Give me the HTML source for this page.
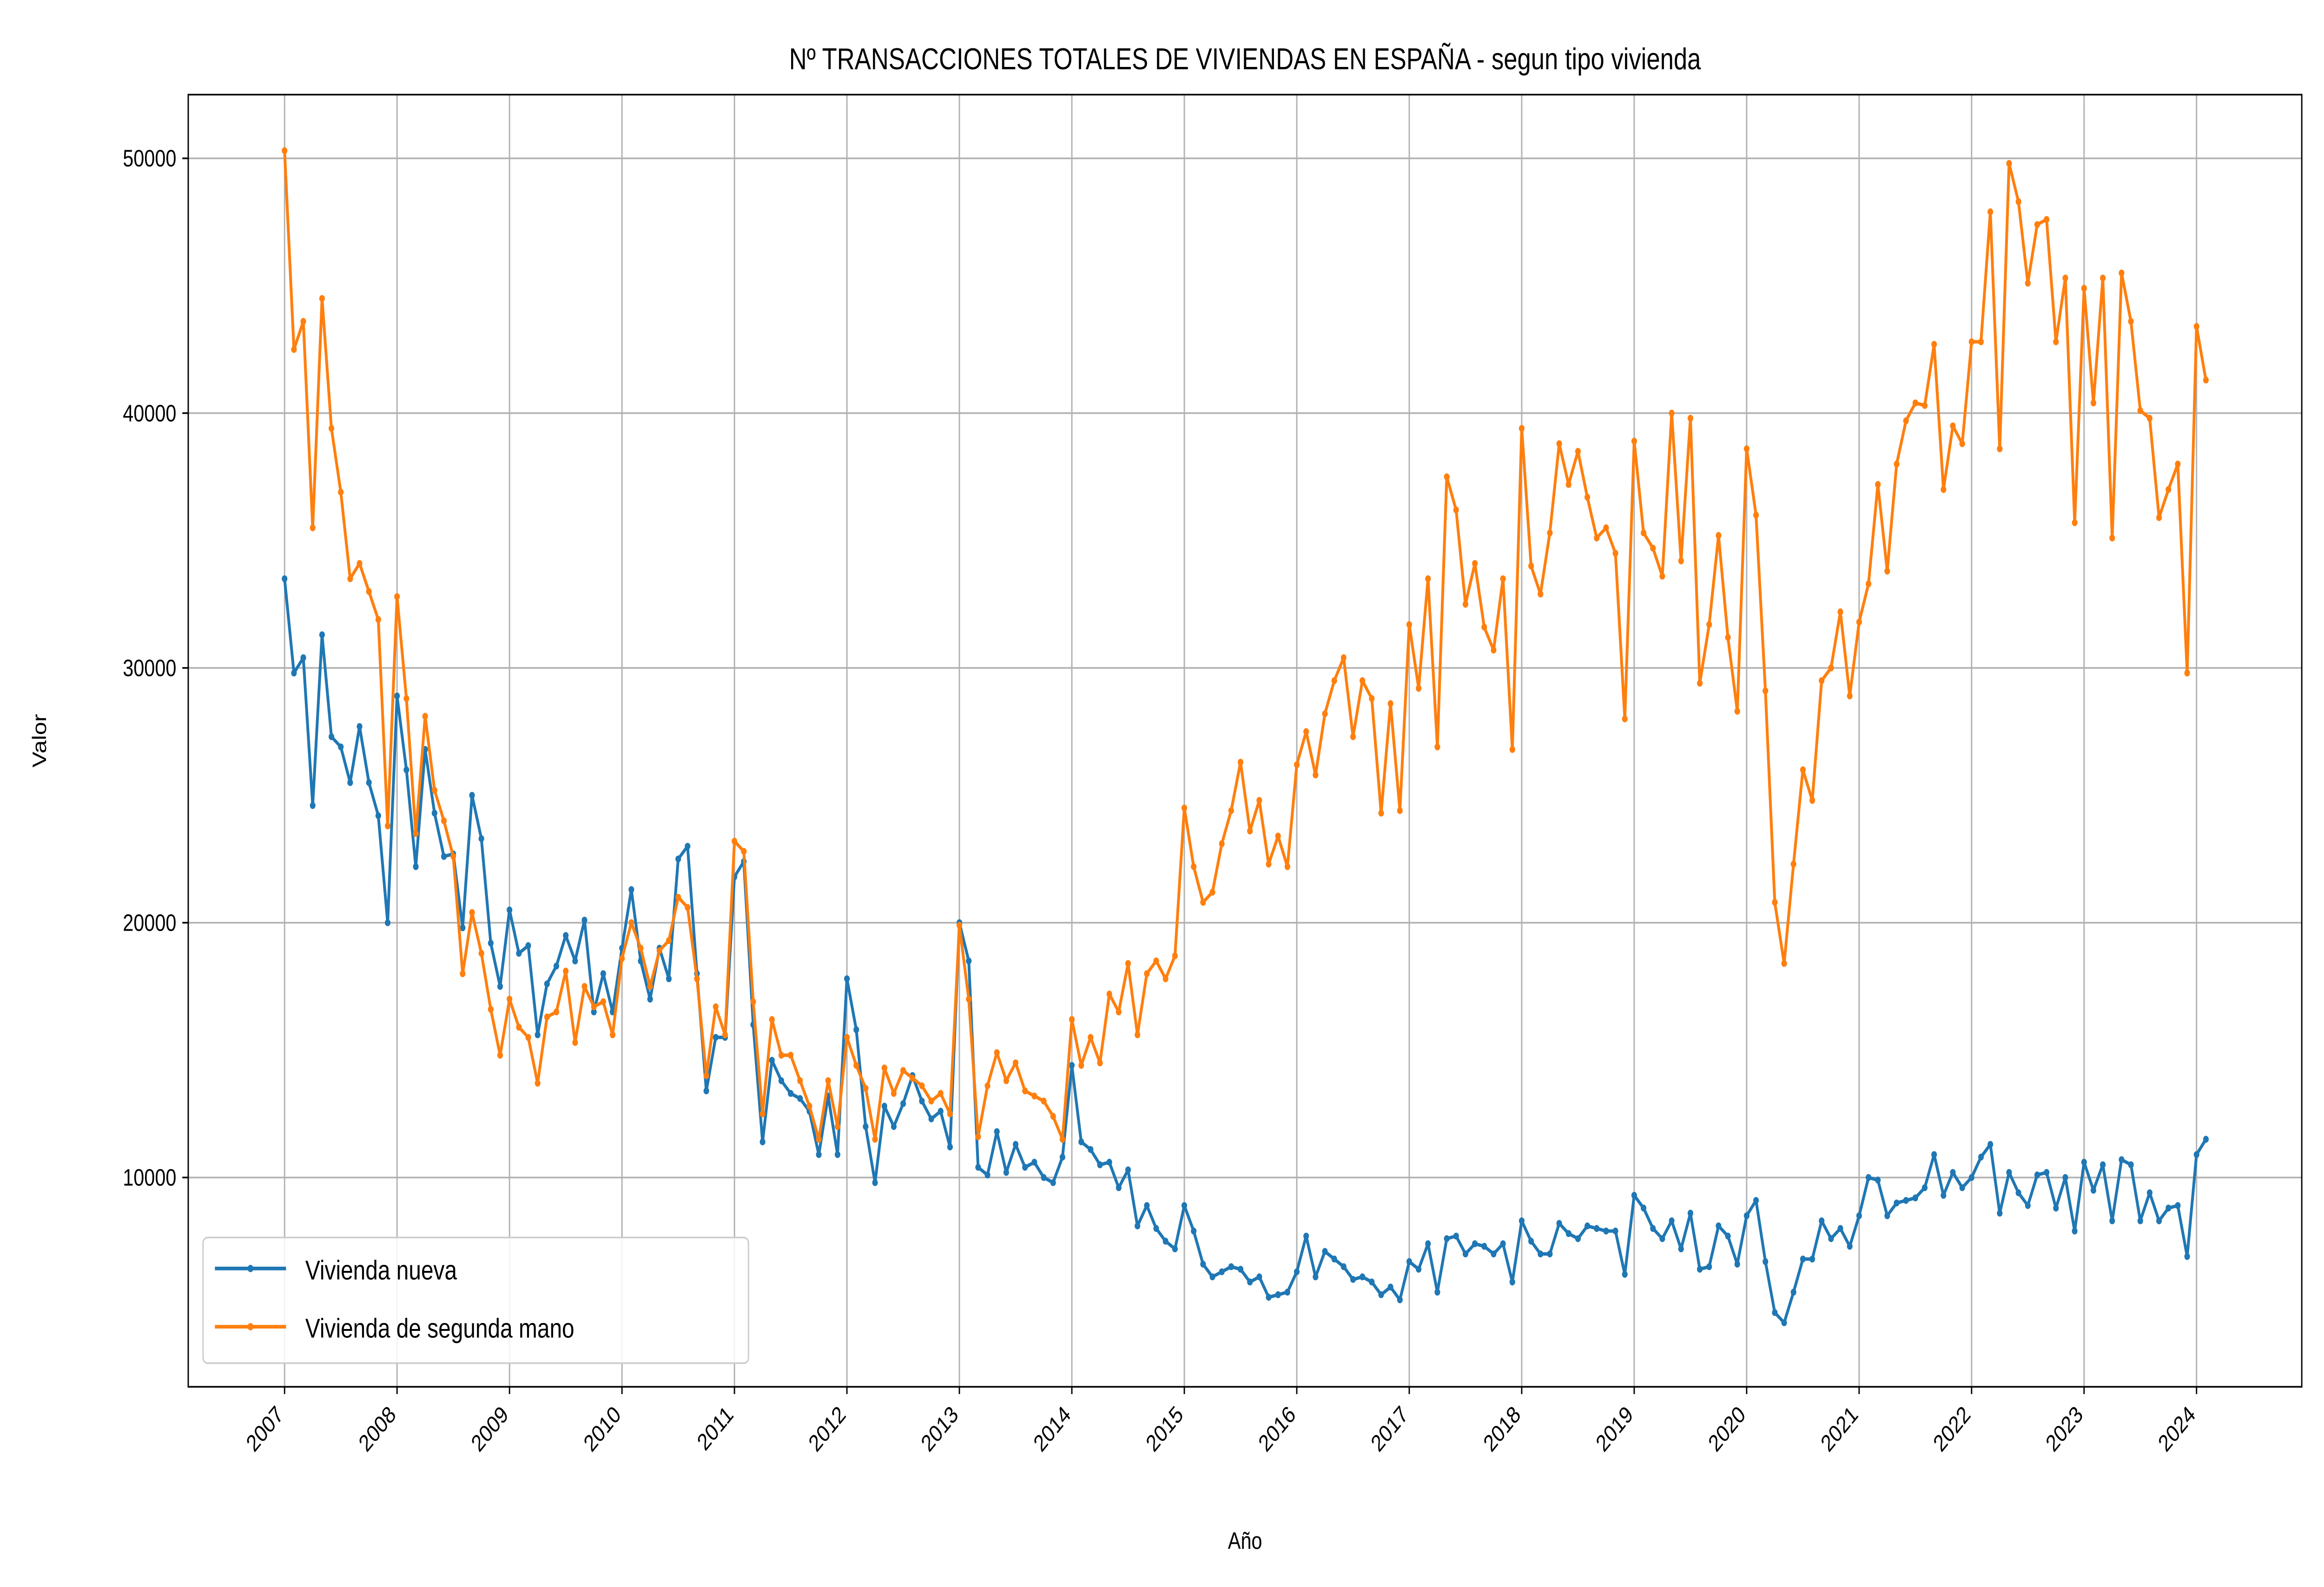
<!DOCTYPE html>
<html><head><meta charset="utf-8">
<style>html,body{margin:0;padding:0;background:#fff;width:100%;height:100%;overflow:hidden;}svg{display:block;width:100vw;height:100vh;font-family:"Liberation Sans","DejaVu Sans",sans-serif;}</style>
</head><body>
<svg id="chart" viewBox="0 0 1568 872" preserveAspectRatio="none" xmlns="http://www.w3.org/2000/svg">
<rect x="0" y="0" width="1568" height="872" fill="#fff"/>
<g id="grid"></g>
<g id="series"></g>
<rect x="127" y="52" width="1426" height="710" fill="none" stroke="#000" stroke-width="0.9"/>
<g id="ticks"></g>
<text x="840" y="38" font-size="16.5" text-anchor="middle">Nº TRANSACCIONES TOTALES DE VIVIENDAS EN ESPAÑA - segun tipo vivienda</text>
<text x="840" y="851" font-size="13" text-anchor="middle">Año</text>
<text x="31" y="407" font-size="13" text-anchor="middle" transform="rotate(-90 31 407)">Valor</text>
<g>
<rect x="137" y="680" width="368" height="69" rx="3" fill="#fff" fill-opacity="0.85" stroke="#ccc" stroke-width="0.9"/>
<line x1="145" y1="697" x2="193" y2="697" stroke="#1f77b4" stroke-width="2"/><circle cx="169" cy="697" r="2" fill="#1f77b4"/>
<text x="206" y="703" font-size="15">Vivienda nueva</text>
<line x1="145" y1="729" x2="193" y2="729" stroke="#ff7f0e" stroke-width="2"/><circle cx="169" cy="729" r="2" fill="#ff7f0e"/>
<text x="206" y="735" font-size="15">Vivienda de segunda mano</text>
</g>
</svg>
<script>
const years=[2007,2008,2009,2010,2011,2012,2013,2014,2015,2016,2017,2018,2019,2020,2021,2022,2023,2024];
const yTicks=[10000,20000,30000,40000,50000];
const nueva=[
33500,29800,30400,24600,31300,27300,26900,25500,27700,25500,24200,20000,
28900,26000,22200,26800,24300,22600,22700,19800,25000,23300,19200,17500,
20500,18800,19100,15600,17600,18300,19500,18500,20100,16500,18000,16500,
19000,21300,18500,17000,19000,17800,22500,23000,18000,13400,15500,15500,
21800,22400,16000,11400,14600,13800,13300,13100,12600,10900,13200,10900,
17800,15800,12000,9800,12800,12000,12900,14000,13000,12300,12600,11200,
20000,18500,10400,10100,11800,10200,11300,10400,10600,10000,9800,10800,
14400,11400,11100,10500,10600,9600,10300,8100,8900,8000,7500,7200,
8900,7900,6600,6100,6300,6500,6400,5900,6100,5300,5400,5500,
6300,7700,6100,7100,6800,6500,6000,6100,5900,5400,5700,5200,
6700,6400,7400,5500,7600,7700,7000,7400,7300,7000,7400,5900,
8300,7500,7000,7000,8200,7800,7600,8100,8000,7900,7900,6200,
9300,8800,8000,7600,8300,7200,8600,6400,6500,8100,7700,6600,
8500,9100,6700,4700,4300,5500,6800,6800,8300,7600,8000,7300,
8500,10000,9900,8500,9000,9100,9200,9600,10900,9300,10200,9600,
10000,10800,11300,8600,10200,9400,8900,10100,10200,8800,10000,7900,
10600,9500,10500,8300,10700,10500,8300,9400,8300,8800,8900,6900,
10900,11500];
const segunda=[
50300,42500,43600,35500,44500,39400,36900,33500,34100,33000,31900,23800,
32800,28800,23500,28100,25200,24000,22600,18000,20400,18800,16600,14800,
17000,15900,15500,13700,16300,16500,18100,15300,17500,16700,16900,15600,
18600,20000,19000,17500,18900,19300,21000,20600,17800,14000,16700,15600,
23200,22800,16900,12500,16200,14800,14800,13800,12800,11500,13800,12000,
15500,14400,13500,11500,14300,13300,14200,13900,13600,13000,13300,12500,
19900,17000,11600,13600,14900,13800,14500,13400,13200,13000,12400,11500,
16200,14400,15500,14500,17200,16500,18400,15600,18000,18500,17800,18700,
24500,22200,20800,21200,23100,24400,26300,23600,24800,22300,23400,22200,
26200,27500,25800,28200,29500,30400,27300,29500,28800,24300,28600,24400,
31700,29200,33500,26900,37500,36200,32500,34100,31600,30700,33500,26800,
39400,34000,32900,35300,38800,37200,38500,36700,35100,35500,34500,28000,
38900,35300,34700,33600,40000,34200,39800,29400,31700,35200,31200,28300,
38600,36000,29100,20800,18400,22300,26000,24800,29500,30000,32200,28900,
31800,33300,37200,33800,38000,39700,40400,40300,42700,37000,39500,38800,
42800,42800,47900,38600,49800,48300,45100,47400,47600,42800,45300,35700,
44900,40400,45300,35100,45500,43600,40100,39800,35900,37000,38000,29800,
43400,41300];
const NS="http://www.w3.org/2000/svg";
const xYear=y=>192+(y-2007)*(1482-192)/17;
const xIdx=i=>xYear(2007+i/12);
const yV=v=>647-(v-10000)*0.014;
function el(t,a,p){const e=document.createElementNS(NS,t);for(const k in a)e.setAttribute(k,a[k]);p.appendChild(e);return e;}
const grid=document.getElementById('grid'),ticks=document.getElementById('ticks'),series=document.getElementById('series');
years.forEach(y=>{const x=xYear(y);
const g=el('line',{x1:x,x2:x,y1:52,y2:762,stroke:'#b0b0b0','stroke-width':0.9},grid);


el('line',{x1:x,x2:x,y1:762,y2:766,stroke:'#000','stroke-width':0.9},ticks);
const t=el('text',{x:x,y:778,'font-size':13,'text-anchor':'end',transform:`rotate(-45 ${x} 778)`},ticks);
t.textContent=y;


});
yTicks.forEach(v=>{const y=yV(v);
const g=el('line',{x1:127,x2:1553,y1:y,y2:y,stroke:'#b0b0b0','stroke-width':0.9},grid);


el('line',{x1:123,x2:127,y1:y,y2:y,stroke:'#000','stroke-width':0.9},ticks);
const t=el('text',{x:119,y:y+4.5,'font-size':13,'text-anchor':'end'},ticks);
t.textContent=v;


});
function draw(data,color,name){
const g=el('g',{},series);


const pts=data.map((v,i)=>xIdx(i).toFixed(2)+','+yV(v).toFixed(2)).join(' ');
const pl=el('polyline',{points:pts,fill:'none',stroke:color,'stroke-width':1.9,'stroke-linejoin':'round'},g);


data.forEach((v,i)=>{const c=el('circle',{cx:xIdx(i),cy:yV(v),r:1.9,fill:color},g);

});
}
draw(nueva,'#1f77b4','series-vivienda-nueva');
draw(segunda,'#ff7f0e','series-vivienda-segunda-mano');
</script>
</body></html>
